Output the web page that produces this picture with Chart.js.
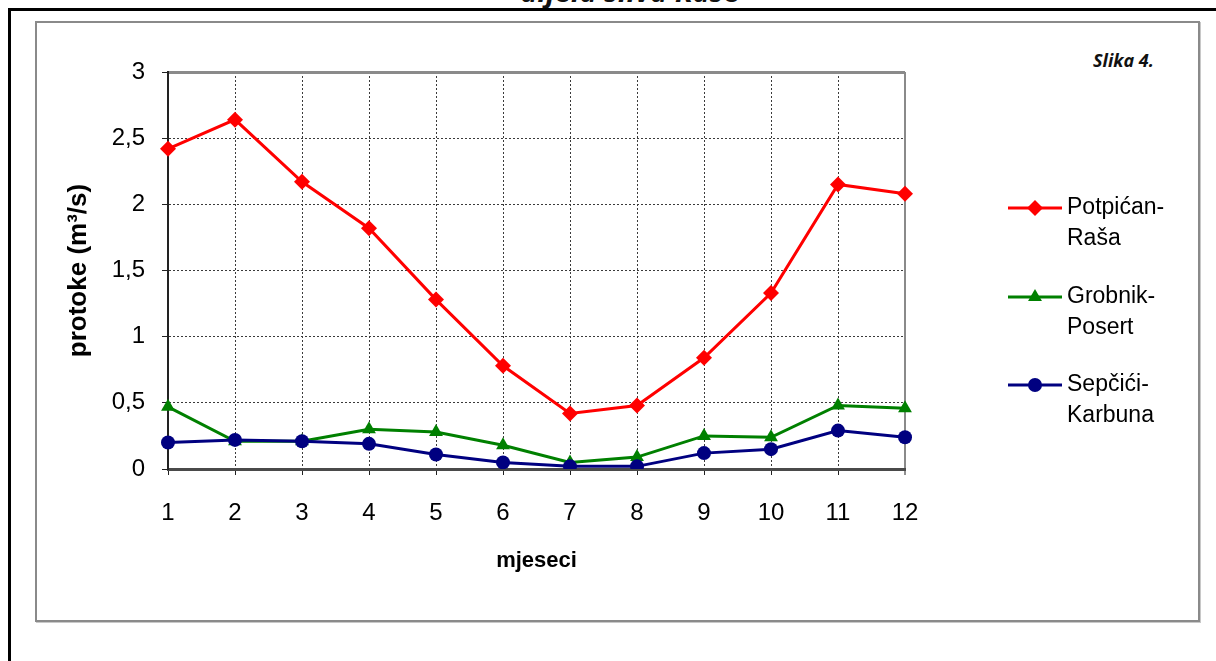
<!DOCTYPE html>
<html lang="hr">
<head>
  <meta charset="UTF-8">
  <title>Protoke - Slika 4.</title>
  <script src="https://cdn.jsdelivr.net/npm/chart.js"></script>
  <style>
    body {
      margin: 0;
      background: #ffffff;
      width: 1216px;
      height: 661px;
      overflow: hidden;
      position: relative;
    }
    .frameTop {
      position: absolute;
      left: 8px;
      top: 8px;
      width: 1208px;
      height: 3px;
      background: #000;
    }
    .frameLeft {
      position: absolute;
      left: 8px;
      top: 8px;
      width: 3px;
      height: 653px;
      background: #000;
    }
    .box {
      position: absolute;
      left: 35px;
      top: 21px;
      width: 1161px;
      height: 597px;
      border: 2px solid #8a8a8a;
      box-shadow: 1px 1px 0 #c8c8c8;
    }
    .docTitle {
      position: absolute;
      left: 0;
      width: 1260px;
      top: -29px;
      text-align: center;
      font: italic bold 29px "Open Sans", sans-serif;
      color: #111;
    }
    .slika {
      position: absolute;
      left: 1093px;
      top: 48px;
      font: italic bold 18px "Open Sans", sans-serif;
      color: #111;
    }
    canvas {
      position: absolute;
      left: 0;
      top: 0;
    }
  </style>
</head>
<body>
  <div class="docTitle">dijela sliva Raše</div>
  <div class="frameTop"></div>
  <div class="frameLeft"></div>
  <div class="box"></div>
  <div class="slika">Slika 4.</div>
  <canvas id="miCanvas" width="1216" height="661"></canvas>

  <script>
    // podaci
    const months = ["1", "2", "3", "4", "5", "6", "7", "8", "9", "10", "11", "12"];
    const potpicanRasa = [2.42, 2.64, 2.17, 1.82, 1.28, 0.78, 0.42, 0.48, 0.84, 1.33, 2.15, 2.08];
    const grobnikPosert = [0.47, 0.21, 0.21, 0.30, 0.28, 0.18, 0.05, 0.09, 0.25, 0.24, 0.48, 0.46];
    const sepciciKarbuna = [0.20, 0.22, 0.21, 0.19, 0.11, 0.05, 0.02, 0.02, 0.12, 0.15, 0.29, 0.24];
    const seriesNames = ["Potpićan-Raša", "Grobnik-Posert", "Sepčići-Karbuna"];
    const yTickLabels = ["0", "0,5", "1", "1,5", "2", "2,5", "3"];

    const arial = "'Liberation Sans', Arial, sans-serif";

    // legenda sa dva reda teksta, kao u Excelu
    const legendPlugin = {
      id: "excelLegend",
      afterDraw(chart) {
        const ctx = chart.ctx;
        const rows = [208, 297, 385];
        chart.data.datasets.forEach((ds, i) => {
          const y = rows[i];
          ctx.save();
          ctx.strokeStyle = ds.borderColor;
          ctx.lineWidth = 3;
          ctx.beginPath();
          ctx.moveTo(1008, y);
          ctx.lineTo(1062, y);
          ctx.stroke();
          ctx.fillStyle = ds.backgroundColor;
          ctx.beginPath();
          const cx = 1035, r = ds.pointRadius;
          if (ds.pointStyle === "rectRot") {
            ctx.moveTo(cx, y - r); ctx.lineTo(cx + r, y); ctx.lineTo(cx, y + r); ctx.lineTo(cx - r, y);
          } else if (ds.pointStyle === "triangle") {
            ctx.moveTo(cx, y - r); ctx.lineTo(cx + r * 0.87, y + r * 0.5); ctx.lineTo(cx - r * 0.87, y + r * 0.5);
          } else {
            ctx.arc(cx, y, r, 0, Math.PI * 2);
          }
          ctx.closePath();
          ctx.fill();
          ctx.fillStyle = "#000";
          ctx.font = "23px " + arial;
          ctx.textBaseline = "middle";
          const parts = ds.label.split("-");
          ctx.fillText(parts[0] + "-", 1067, y);
          ctx.fillText(parts[1], 1067, y + 31);
          ctx.restore();
        });
      }
    };

    const gridGray = "#8a8a8a";

    const ctx = document.getElementById("miCanvas").getContext("2d");
    new Chart(ctx, {
      type: "line",
      data: {
        labels: months,
        datasets: [
          {
            label: seriesNames[0],
            data: potpicanRasa,
            borderColor: "#ff0000",
            backgroundColor: "#ff0000",
            pointStyle: "rectRot",
            pointRadius: 8,
            pointBorderWidth: 0,
            borderWidth: 3,
            order: 3
          },
          {
            label: seriesNames[1],
            data: grobnikPosert,
            borderColor: "#008000",
            backgroundColor: "#008000",
            pointStyle: "triangle",
            pointRadius: 8,
            pointBorderWidth: 0,
            borderWidth: 3,
            order: 2
          },
          {
            label: seriesNames[2],
            data: sepciciKarbuna,
            borderColor: "#000080",
            backgroundColor: "#000080",
            pointStyle: "circle",
            pointRadius: 7,
            pointBorderWidth: 0,
            borderWidth: 3,
            order: 1
          }
        ]
      },
      options: {
        responsive: false,
        animation: false,
        layout: {
          padding: { left: 40, right: 311, top: 72, bottom: 87 }
        },
        plugins: {
          legend: { display: false },
          tooltip: { enabled: false }
        },
        scales: {
          x: {
            afterFit: (scale) => { scale.height = 105; },
            grid: {
              color: (c) => c.index === 11 ? gridGray : "#3a3a3a",
              lineWidth: (c) => c.index === 11 ? 2 : 1,
              tickLength: 6,
              tickColor: "#222",
              tickWidth: 1,
              tickBorderDash: []
            },
            border: {
              color: "#4a4a4a",
              width: 3,
              dash: (c) => c.index === 11 ? [] : [2, 2]
            },
            ticks: {
              color: "#000",
              padding: 24,
              maxRotation: 0,
              font: { family: arial, size: 24 }
            },
            title: {
              display: true,
              text: "mjeseci",
              color: "#000",
              padding: 0,
              font: { family: arial, size: 22, weight: "bold" }
            }
          },
          y: {
            min: 0,
            max: 3,
            afterFit: (scale) => { scale.width = 128; },
            grid: {
              color: (c) => c.tick && c.tick.value === 3 ? gridGray : "#3a3a3a",
              lineWidth: (c) => c.tick && c.tick.value === 3 ? 3 : 1,
              tickLength: 6,
              tickColor: "#222",
              tickWidth: 1,
              tickBorderDash: []
            },
            border: {
              color: "#222",
              width: 2,
              dash: (c) => c.tick && c.tick.value === 3 ? [] : [2, 2]
            },
            ticks: {
              stepSize: 0.5,
              color: "#000",
              padding: 17,
              font: { family: arial, size: 24 },
              callback: (value, index) => yTickLabels[index]
            },
            title: {
              display: true,
              text: "protoke (m³/s)",
              color: "#000",
              padding: { top: 23, bottom: 0 },
              font: { family: arial, size: 26, weight: "bold" }
            }
          }
        }
      },
      plugins: [legendPlugin]
    });
  </script>
</body>
</html>
